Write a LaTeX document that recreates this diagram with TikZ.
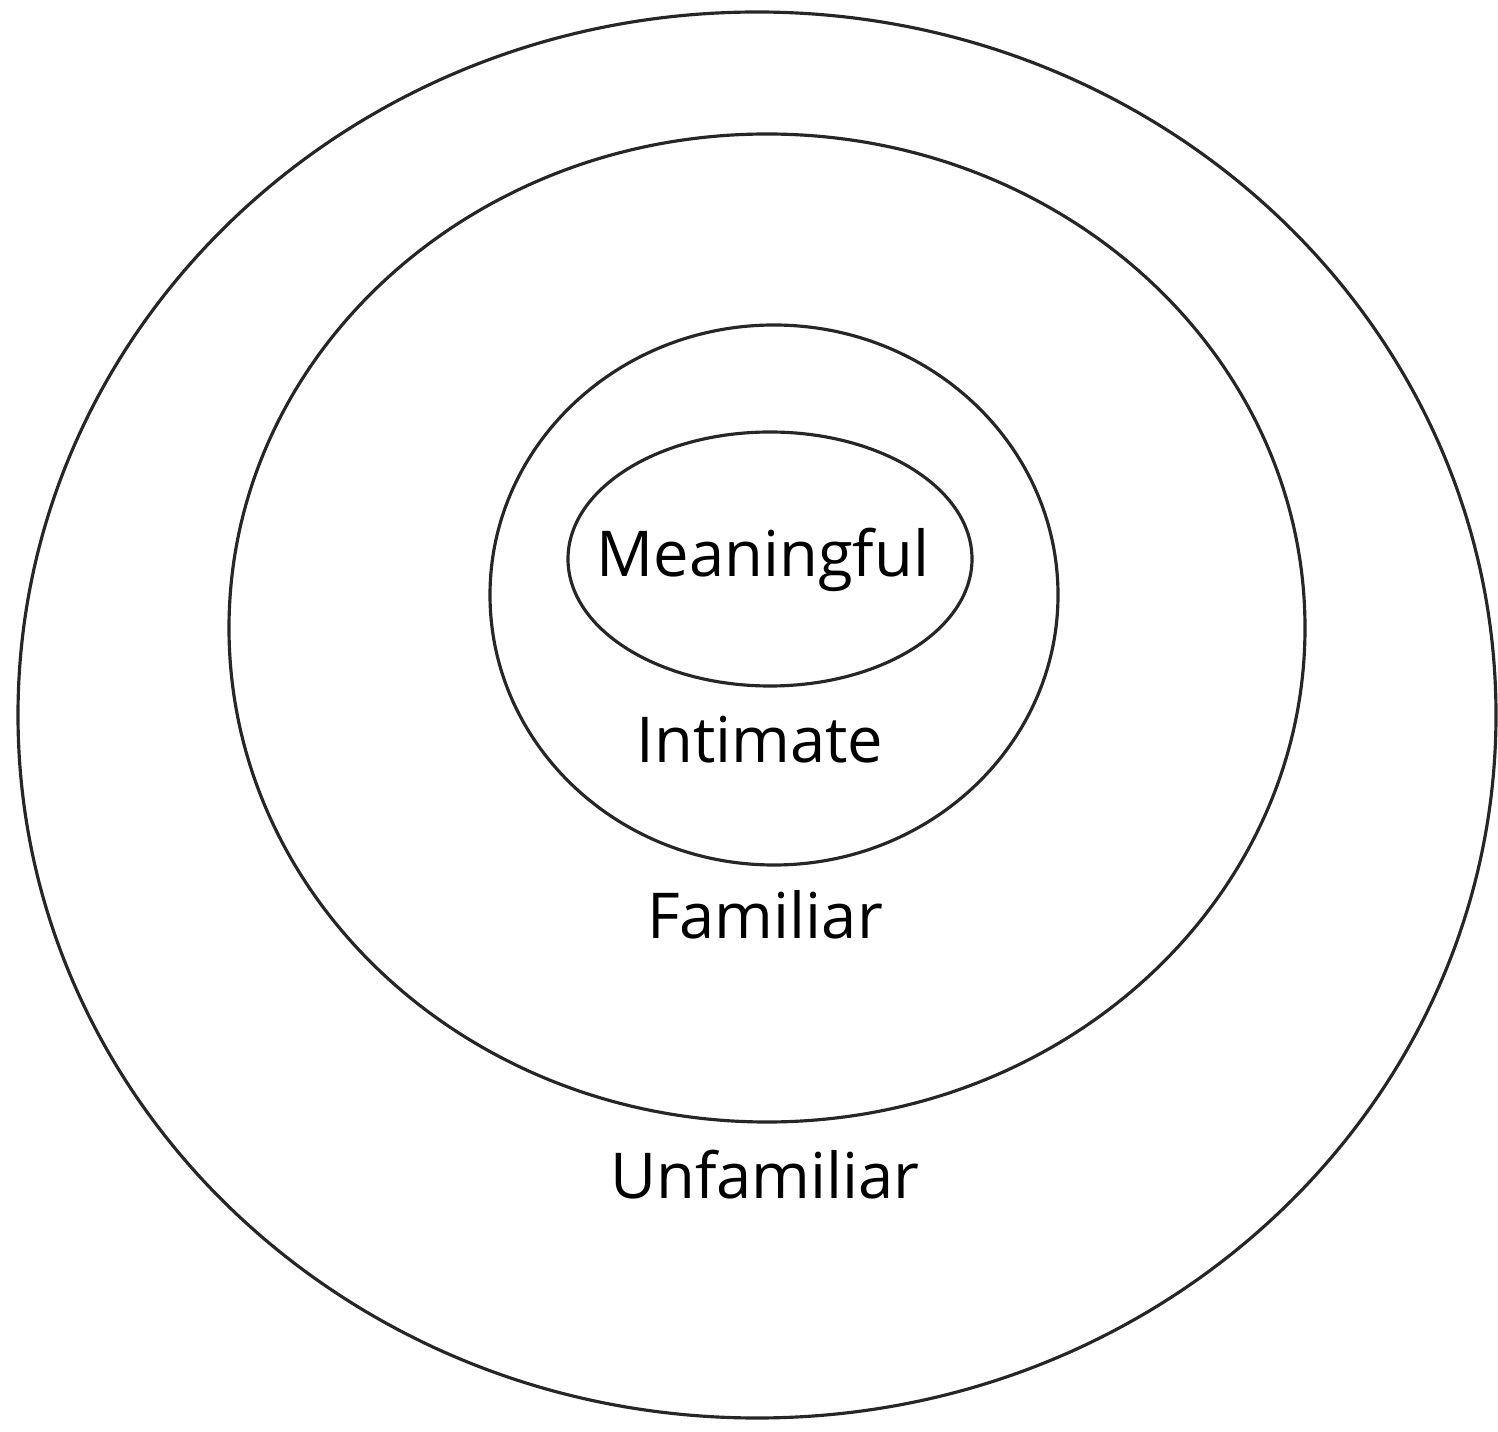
\documentclass[tikz,border=0pt]{standalone}
\usepackage{fontspec}
\setmainfont{Open Sans}
\usepackage{tikz}
\usetikzlibrary{shapes.geometric}
\tikzset{
  ring/.style={
    ellipse,
    draw=black!85,
    line width=0.9pt,
    inner sep=0pt
  },
  etiqueta/.style={
    align=center,
    font=\fontsize{18}{20}\selectfont
  }
}
\begin{document}
\begin{tikzpicture}
\useasboundingbox (0,0) rectangle (14.98,14.31);
\node[ring, minimum width=14.78cm, minimum height=14.06cm] (unfam) at (7.57,7.16) {};
\node[ring, minimum width=10.76cm, minimum height=9.88cm] (fam) at (7.67,8.03) {};
\node[ring, minimum width=5.68cm, minimum height=5.40cm] (intim) at (7.74,8.36) {};
\node[ring, minimum width=4.04cm, minimum height=2.54cm] (mean) at (7.70,8.72) {};
\node[etiqueta] (tmean) at (7.63,8.71) {Meaningful};
\node[etiqueta] (tintim) at (7.60,6.91) {Intimate};
\node[etiqueta] (tfam) at (7.65,5.16) {Familiar};
\node[etiqueta] (tunfam) at (7.65,2.56) {Unfamiliar};
\end{tikzpicture}
\end{document}
